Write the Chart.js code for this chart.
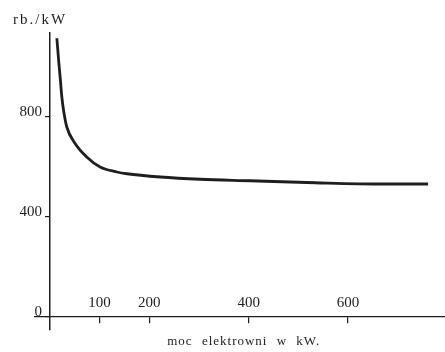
<!DOCTYPE html>
<html>
<head>
<meta charset="utf-8">
<script src="https://cdn.jsdelivr.net/npm/chart.js@4/dist/chart.umd.min.js"></script>
<style>
  html, body { margin: 0; padding: 0; background: #fff; }
  #wrap { width: 445px; height: 352px; }
</style>
</head>
<body>
<div id="wrap"><canvas id="chart"></canvas></div>
<script>
// values (plant power in kW -> cost in rb./kW)
const power = [14, 18, 21, 24, 28, 34, 50, 74, 101, 135, 155, 222, 302, 403, 534, 664, 761]
const cost = [1115, 1016, 950, 880, 820, 760, 696, 640, 600, 580, 573, 560, 551, 545, 537, 532, 532]
const xTicks = [100, 200, 400, 600]
const yTicks = [0, 400, 800]
const yUnit = 'rb./kW'
const xTitle = 'moc elektrowni w kW.'

const ink = '#1e1e1e'
const serif = 'Liberation Serif, DejaVu Serif, serif'
const yRange = { min: -52, max: 1136 }

// axis captions, placed from the scales
const captions = {
  id: 'captions',
  afterDraw (chart) {
    const { ctx, scales } = chart
    ctx.save()
    ctx.fillStyle = ink
    ctx.font = '15px ' + serif
    ctx.letterSpacing = '2px'
    ctx.textAlign = 'left'
    ctx.textBaseline = 'alphabetic'
    ctx.fillText(yUnit, 13, 24)
    ctx.font = '13px ' + serif
    ctx.letterSpacing = '1px'
    ctx.wordSpacing = '5px'
    ctx.textAlign = 'center'
    ctx.fillText(xTitle, scales.x.getPixelForValue(390), 345)
    ctx.restore()
  }
}

const ctx = document.getElementById('chart')
// eslint-disable-next-line no-unused-vars
const myChart = new Chart(ctx, {
  type: 'line',
  data: {
    datasets: [{
      data: power.map((p, i) => ({ x: p, y: cost[i] })),
      borderColor: ink,
      borderWidth: 2.8,
      pointRadius: 0,
      cubicInterpolationMode: 'monotone',
      fill: false
    }]
  },
  options: {
    responsive: true,
    maintainAspectRatio: false,
    animation: false,
    layout: { padding: { left: 35, top: 33, right: 0, bottom: 22 } },
    plugins: { legend: { display: false }, tooltip: { enabled: false } },
    scales: {
      x: {
        type: 'linear',
        min: -30,
        max: 795,
        position: { y: 0 },
        afterBuildTicks: s => { s.ticks = xTicks.map(v => ({ value: v })) },
        grid: { drawOnChartArea: false, drawTicks: true, tickLength: 6, color: ink, lineWidth: 1.2 },
        border: { color: ink, width: 1.2 },
        ticks: { color: ink, font: { family: serif, size: 15 }, padding: -29, maxRotation: 0 }
      },
      y: {
        type: 'linear',
        ...yRange,
        position: { x: 0 },
        afterBuildTicks: s => { s.ticks = yTicks.map(v => ({ value: v })) },
        grid: { drawOnChartArea: false, drawTicks: true, tickLength: 4, color: ink, lineWidth: 1.2 },
        border: { color: ink, width: 1.5 },
        ticks: { display: false }
      },
      // labels for the y axis, set a little left of the axis line
      yl: {
        type: 'linear',
        axis: 'y',
        ...yRange,
        position: { x: -16 },
        afterBuildTicks: s => { s.ticks = yTicks.map(v => ({ value: v })) },
        grid: { display: false },
        border: { display: false },
        ticks: { color: ink, font: { family: serif, size: 15 }, labelOffset: -5 }
      }
    }
  },
  plugins: [captions]
})
</script>
</body>
</html>
